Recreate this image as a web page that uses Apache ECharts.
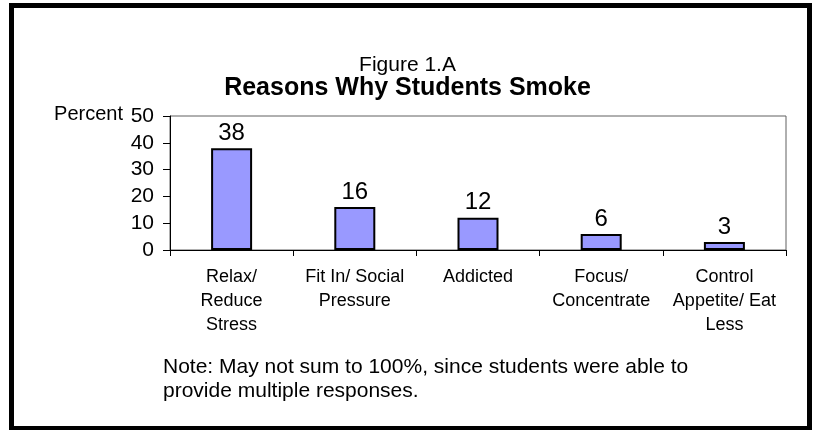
<!DOCTYPE html>
<html>
<head>
<meta charset="utf-8">
<script src="https://cdn.jsdelivr.net/npm/echarts@6/dist/echarts.min.js"></script>
<style>
  html, body { margin: 0; padding: 0; background: #fff; }
  #chart { width: 815px; height: 430px; }
</style>
</head>
<body>
<div id="chart"></div>
<script>
// Survey reasons and the share of students giving each one
const categories = [
  'Relax/\nReduce\nStress',
  'Fit In/ Social\nPressure',
  'Addicted',
  'Focus/\nConcentrate',
  'Control\nAppetite/ Eat\nLess'
];
const percents = [38, 16, 12, 6, 3];
const yTicks = { min: 0, max: 50, step: 10 };

const figureLabel = 'Figure 1.A';
const chartTitle = 'Reasons Why Students Smoke';
const yAxisLabel = 'Percent';
const noteLines = [
  'Note: May not sum to 100%, since students were able to',
  'provide multiple responses.'
];

const FONT = 'Arial, "Liberation Sans", sans-serif';

const chart = echarts.init(document.getElementById('chart'), null, { renderer: 'canvas' });

chart.setOption({
  animation: false,
  backgroundColor: '#ffffff',
  title: [
    {
      text: figureLabel,
      left: 'center',
      top: 50,
      textStyle: { fontFamily: FONT, fontSize: 21, fontWeight: 'normal', color: '#000' }
    },
    {
      text: chartTitle,
      left: 'center',
      top: 71,
      textStyle: { fontFamily: FONT, fontSize: 25, fontWeight: 'bold', color: '#000' }
    }
  ],
  grid: {
    left: 170,
    right: 29,
    top: 116,
    bottom: 180,
    show: true,
    borderColor: '#606060',
    borderWidth: 1,
    backgroundColor: 'transparent'
  },
  xAxis: {
    type: 'category',
    data: categories,
    boundaryGap: true,
    axisLine: { show: true, lineStyle: { color: '#000', width: 1 } },
    axisTick: { show: true, alignWithLabel: false, length: 6, lineStyle: { color: '#000' } },
    axisLabel: {
      interval: 0,
      margin: 15,
      fontFamily: FONT,
      fontSize: 18,
      lineHeight: 24,
      color: '#000'
    },
    splitLine: { show: false }
  },
  yAxis: {
    type: 'value',
    min: yTicks.min,
    max: yTicks.max,
    interval: yTicks.step,
    axisLine: { show: true, lineStyle: { color: '#000', width: 1 } },
    axisTick: { show: true, inside: false, length: 7, lineStyle: { color: '#000' } },
    axisLabel: { margin: 16, fontFamily: FONT, fontSize: 21, color: '#000' },
    splitLine: { show: false }
  },
  series: [
    {
      type: 'bar',
      data: percents,
      barWidth: 41,
      itemStyle: { color: '#9999FF', borderColor: '#000', borderWidth: 2 },
      label: {
        show: true,
        position: 'top',
        distance: 3,
        fontFamily: FONT,
        fontSize: 24,
        color: '#000'
      }
    }
  ],
  graphic: [
    {
      type: 'rect',
      silent: true,
      shape: { x: 11.5, y: 5.5, width: 798, height: 423 },
      style: { fill: 'none', stroke: '#000', lineWidth: 5 }
    },
    {
      type: 'text',
      style: {
        text: yAxisLabel,
        x: 123,
        y: 114,
        align: 'right',
        verticalAlign: 'middle',
        fontFamily: FONT,
        fontSize: 20,
        fill: '#000'
      }
    },
    {
      type: 'text',
      left: 163,
      top: 355,
      style: {
        text: noteLines.join('\n'),
        fontFamily: FONT,
        fontSize: 21,
        lineHeight: 24,
        fill: '#000'
      }
    }
  ]
});
</script>
</body>
</html>
